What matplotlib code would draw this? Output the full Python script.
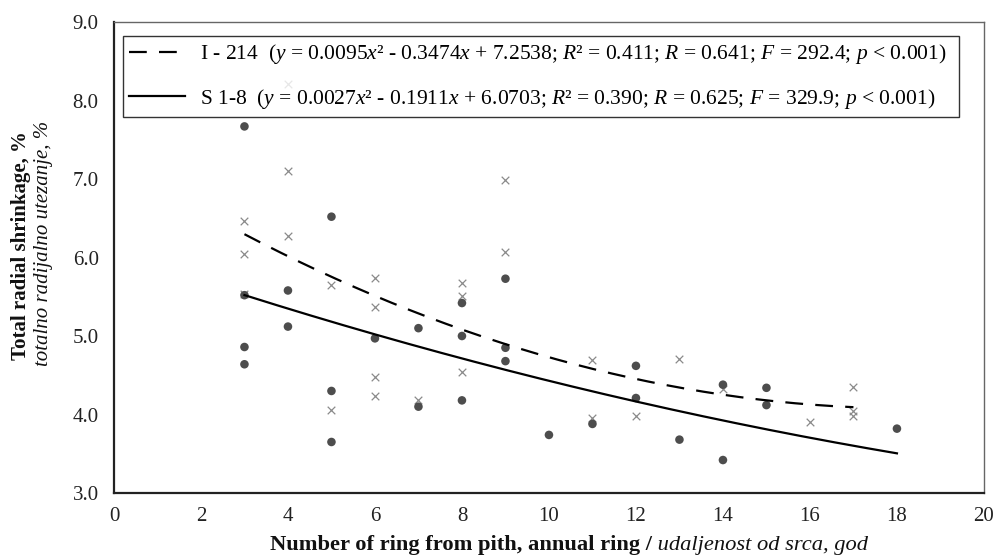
import numpy as np
import matplotlib
matplotlib.use('Agg')
import matplotlib.pyplot as plt

plt.rcParams['font.family'] = 'Liberation Serif'
plt.rcParams['mathtext.fontset'] = 'custom'
plt.rcParams['mathtext.rm'] = 'Liberation Serif'
plt.rcParams['mathtext.it'] = 'Liberation Serif:italic'
plt.rcParams['mathtext.bf'] = 'Liberation Serif:bold'

# I - 214 (crosses)
i214_x = [3, 3, 3, 4, 4, 4, 5, 5, 6, 6, 6, 6, 7, 8, 8, 8, 9, 9,
          11, 11, 12, 13, 14, 16, 17, 17, 17]
i214_y = [6.47, 6.05, 5.53, 8.21, 7.10, 6.28, 5.65, 4.06, 5.74, 5.37, 4.48, 4.23, 4.19, 5.67, 5.51, 4.54, 6.99, 6.07,
          4.69, 3.96, 3.98, 4.71, 4.33, 3.90, 4.35, 4.04, 3.98]

# S 1-8 (filled circles)
s18_x = [3, 3, 3, 3, 4, 4, 5, 5, 5, 6, 7, 7, 8, 8, 8, 9, 9, 9,
         10, 11, 12, 12, 13, 14, 14, 15, 15, 18]
s18_y = [7.67, 5.52, 4.86, 4.64, 5.58, 5.12, 6.52, 4.30, 3.65, 4.97, 5.10, 4.10, 5.42, 5.00, 4.18, 5.73, 4.85, 4.68,
         3.74, 3.88, 4.62, 4.21, 3.68, 4.38, 3.42, 4.34, 4.12, 3.82]

# trend line coefficients (from the legend) and ranges
i214_coef = [0.0095, -0.3474, 7.2538]
s18_coef = [0.0027, -0.1911, 6.0703]
i214_range = (3, 17)
s18_range = (3, 18)

i214_label = (r'I - 214  ($y$ = 0.0095$x$² - 0.3474$x$ + 7.2538; $R$² = 0.411; '
              r'$R$ = 0.641; $F$ = 292.4; $p$ < 0.001)  ')
s18_label = (r'S 1-8  ($y$ = 0.0027$x$² - 0.1911$x$ + 6.0703; $R$² = 0.390; '
             r'$R$ = 0.625; $F$ = 329.9; $p$ < 0.001)')

fig = plt.figure(figsize=(9.97, 5.56), dpi=100)
ax = fig.add_axes([0.1143, 0.1133, 0.8726, 0.8471])

ax.scatter(i214_x, i214_y, marker='x', s=30, color='#8a8a8a', linewidths=0.9, zorder=3)
ax.scatter(s18_x, s18_y, marker='o', s=38, color='#4d4d4d', edgecolors='none', zorder=3)

xx = np.linspace(*i214_range, 200)
ax.plot(xx, np.polyval(i214_coef, xx), color='black', lw=1.6, dashes=(8, 5.5), label=i214_label, zorder=4)
xx = np.linspace(*s18_range, 200)
ax.plot(xx, np.polyval(s18_coef, xx), color='black', lw=1.6, label=s18_label, zorder=4)

ax.set_xlim(0, 20)
ax.set_ylim(3.0, 9.0)
ax.set_xticks(range(0, 21, 2))
ax.set_yticks(np.arange(3, 9.01, 1.0))
ax.set_yticklabels([f'{v:.1f}' for v in np.arange(3, 9.01, 1.0)])
ax.tick_params(length=0, labelsize=15, colors='#222222')
ax.tick_params(axis='x', pad=10)
ax.tick_params(axis='y', pad=11)

for s in ['left', 'bottom']:
    ax.spines[s].set_linewidth(1.6)
    ax.spines[s].set_color('#222222')
for s in ['top', 'right']:
    ax.spines[s].set_linewidth(1.0)
    ax.spines[s].set_color('#666666')

leg = ax.legend(loc='upper left', bbox_to_anchor=(0.0103, 0.970), borderaxespad=0,
                fontsize=15.5, handlelength=2.6, handletextpad=0.7, labelspacing=0.95,
                borderpad=0.28, fancybox=False, frameon=True)
leg.get_frame().set_edgecolor('black')
leg.get_frame().set_linewidth(1.0)

# x label: bold part then italic part
t1 = fig.text(0.2708, 0.011, 'Number of ring from pith, annual ring /', fontsize=16.2,
              fontweight='bold', ha='left', va='baseline', color='#111111')
ax.annotate(' udaljenost od srca, god', xy=(1, 0), xycoords=t1, fontsize=16.2,
            fontstyle='italic', ha='left', va='bottom', color='#111111')

# y label: two lines
fig.text(0.021, 0.558, 'Total radial shrinkage, %', rotation=90, fontsize=15,
         fontweight='bold', ha='center', va='center', color='#111111')
fig.text(0.044, 0.562, 'totalno radijalno utezanje, %', rotation=90, fontsize=15,
         fontstyle='italic', ha='center', va='center', color='#111111')

plt.savefig('out.png', dpi=100)
